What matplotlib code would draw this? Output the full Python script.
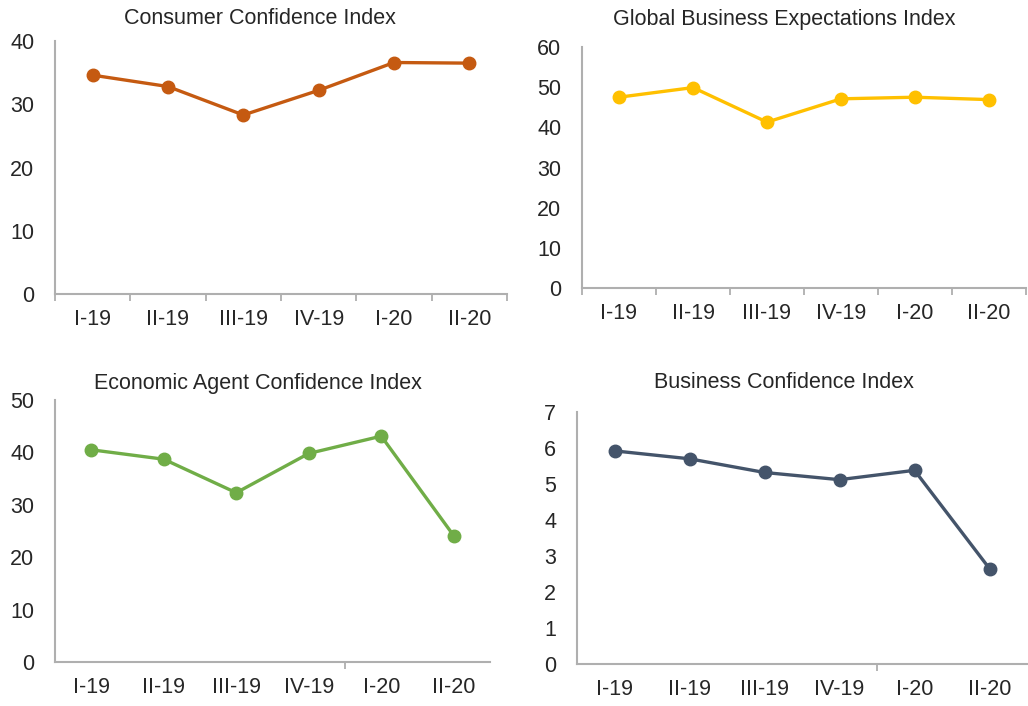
import numpy as np
import matplotlib.pyplot as plt

plt.rcParams['font.family'] = ['Liberation Sans', 'DejaVu Sans']

quarters = ["I-19", "II-19", "III-19", "IV-19", "I-20", "II-20"]

consumer = [34.6, 32.8, 28.3, 32.2, 36.6, 36.5]
global_business = [47.5, 49.9, 41.3, 47.1, 47.5, 46.9]
economic_agent = [40.5, 38.7, 32.3, 39.8, 43.1, 24.1]
business = [5.92, 5.70, 5.32, 5.12, 5.38, 2.65]

W, H = 1028, 706
fig = plt.figure(figsize=(W / 100, H / 100), dpi=100)


def make_ax(left, top, right, bottom):
    return fig.add_axes([left / W, 1 - bottom / H, (right - left) / W, (bottom - top) / H])


panels = [
    # title, values, color, ymax, step, axes box, title pos, boundary ticks
    ("Consumer Confidence Index", consumer, "#C55A11", 40, 10, (55, 41, 507, 294), (260, 19), "all"),
    ("Global Business Expectations Index", global_business, "#FFC000", 60, 10, (582, 47, 1026, 288), (784, 20), "all"),
    ("Economic Agent Confidence Index", economic_agent, "#70AD47", 50, 10, (55, 400, 490, 662), (258, 383), "one"),
    ("Business Confidence Index", business, "#44546A", 7, 1, (577, 412, 1027, 664), (784, 383), "one"),
]

axis_col = "#AFAFAF"
txt_col = "#262626"
x = np.arange(len(quarters))

for title, vals, col, ymax, step, box, tpos, ticks in panels:
    ax = make_ax(*box)
    ax.plot(x, vals, color=col, lw=2.4, marker="o", ms=9, solid_capstyle="round", clip_on=False)
    ax.set_xlim(-0.5, len(quarters) - 0.5)
    ax.set_ylim(0, ymax)
    ax.set_yticks(np.arange(0, ymax + step / 2, step))
    ax.set_xticks(x)
    ax.set_xticklabels(quarters)
    if ticks == "all":
        ax.set_xticks(np.arange(-0.5, len(quarters), 1.0), minor=True)
    else:
        ax.set_xticks([3.5], minor=True)
    ax.tick_params(axis="x", which="major", length=0, pad=11, labelsize=15.5, colors=txt_col)
    ax.tick_params(axis="x", which="minor", length=5, width=1.3, color=axis_col, direction="out")
    ax.tick_params(axis="y", length=0, pad=15, labelsize=15.5, colors=txt_col)
    for s in ["top", "right"]:
        ax.spines[s].set_visible(False)
    for s in ["left", "bottom"]:
        ax.spines[s].set_color(axis_col)
        ax.spines[s].set_linewidth(1.5)
    fig.text(tpos[0] / W, 1 - tpos[1] / H, title, fontsize=15.5, color=txt_col,
             ha="center", va="center")

fig.savefig("out.png", dpi=100)
